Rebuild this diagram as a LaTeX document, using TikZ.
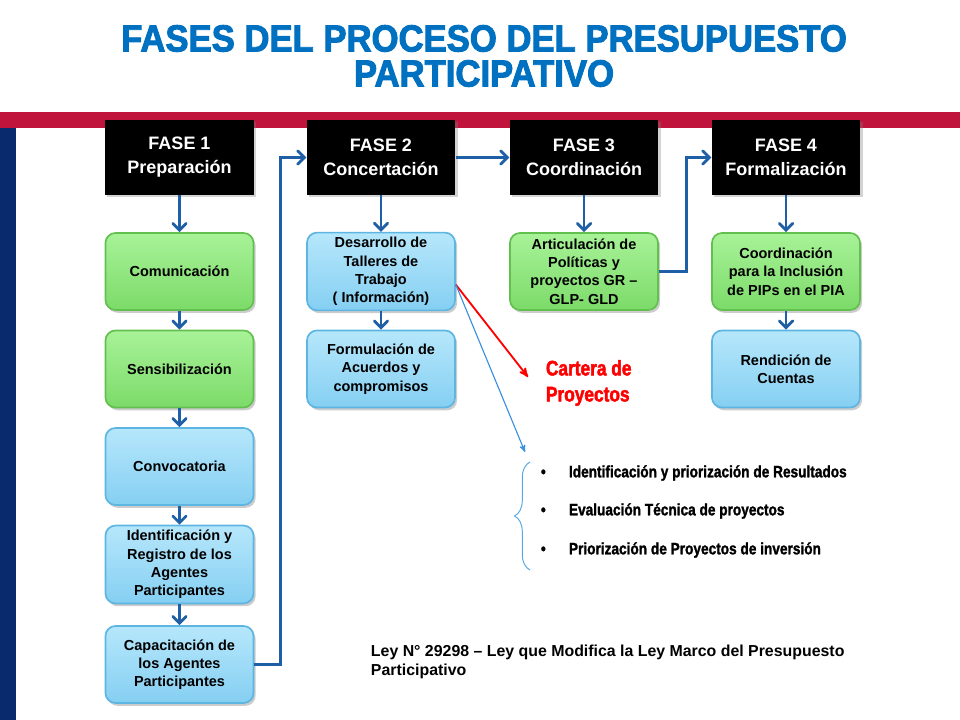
\documentclass[tikz,border=0pt]{standalone}
\usepackage{fontspec}
\setmainfont{Liberation Sans}
\newfontfamily\titlefont[FakeStretch=0.92,FakeBold=2.5]{Liberation Sans}
\newfontfamily\condfont[FakeStretch=0.83,FakeBold=1.5]{Liberation Sans}
\newfontfamily\cartfont[FakeStretch=0.82,FakeBold=2]{Liberation Sans}
\usetikzlibrary{arrows,shadows,decorations.pathreplacing}

\definecolor{titleblue}{HTML}{0070C0}
\definecolor{bandred}{HTML}{C0143C}
\definecolor{bandnavy}{HTML}{0A2A6E}
\definecolor{flowblue}{HTML}{1F5FA5}
\definecolor{thinblue}{HTML}{3B8FE0}
\definecolor{braceblue}{HTML}{5AA8E0}
\definecolor{greentop}{HTML}{A8F298}
\definecolor{greenbot}{HTML}{7CDB69}
\definecolor{greenedge}{HTML}{62C04F}
\definecolor{bluetop}{HTML}{B6E7FB}
\definecolor{bluebot}{HTML}{85CFF2}
\definecolor{blueedge}{HTML}{5DB5E2}

\begin{document}
\begin{tikzpicture}
	[x=0.025cm,y=-0.025cm,
	fase/.style={fill=black, text=white, minimum width=3.72cm, minimum height=1.875cm, align=center,
		font=\bfseries\fontsize{12.8}{17}\selectfont,
		drop shadow={shadow xshift=1.5pt, shadow yshift=-1.5pt, opacity=0.35}},
	stepbox/.style={rounded corners=0.25cm, minimum width=3.7cm, minimum height=1.925cm,
		align=center, line width=1.2pt, font=\bfseries\fontsize{10.3}{13}\selectfont,
		drop shadow={shadow xshift=1.5pt, shadow yshift=-2pt, opacity=0.4}},
	greenbox/.style={stepbox, draw=greenedge, top color=greentop, bottom color=greenbot},
	bluebox/.style={stepbox, draw=blueedge, top color=bluetop, bottom color=bluebot},
	flow/.style={->, >=angle 90, draw=flowblue, line width=2pt},
	bullet/.style={anchor=west, font=\condfont\bfseries\fontsize{11.7}{14}\selectfont}]

	\useasboundingbox (0,0) rectangle (960,720);

	% bands
	\fill[bandred] (0,112) rectangle (960,128);
	\fill[bandnavy] (0,128) rectangle (16,720);

	% title
	\node[text=titleblue, align=center, font=\titlefont\bfseries\fontsize{26.8}{24.9}\selectfont] (title) at (484,56)
		{FASES DEL PROCESO DEL PRESUPUESTO\\PARTICIPATIVO};

	% phases
	\node[fase] (f1) at (179.5,157.5) {FASE 1\\Preparación};
	\node[fase] (f2) at (381,157.5) {FASE 2\\Concertación};
	\node[fase] (f3) at (584,157.5) {FASE 3\\Coordinación};
	\node[fase] (f4) at (786,157.5) {FASE 4\\Formalización};

	% column 1
	\node[greenbox] (com) at (179.5,271.5) {Comunicación};
	\node[greenbox] (sen) at (179.5,369) {Sensibilización};
	\node[bluebox] (con) at (179.5,466.5) {Convocatoria};
	\node[bluebox] (ide) at (179.5,564.5) {Identificación y\\Registro de los\\Agentes\\Participantes};
	\node[bluebox] (cap) at (179.5,664.5) {Capacitación de\\los Agentes\\Participantes};

	% column 2
	\node[bluebox] (des) at (381,271.5) {Desarrollo de\\Talleres de\\Trabajo\\( Información)};
	\node[bluebox] (for) at (381,369) {Formulación de\\Acuerdos y\\compromisos};

	% column 3
	\node[greenbox] (art) at (584,271.5) {Articulación de\\Políticas y\\proyectos GR --\\GLP- GLD};

	% column 4
	\node[greenbox] (coo) at (786,271.5) {Coordinación\\para la Inclusión\\de PIPs en el PIA};
	\node[bluebox] (ren) at (786,369) {Rendición de\\Cuentas};

	\foreach \from/\to in {f1/com,com/sen,sen/con,con/ide,ide/cap,f2/des,des/for,f3/art,f4/coo,coo/ren,f2/f3}
	\draw[flow] (\from) -- (\to);

	\draw[flow] (cap.east) -- ++(26,0) |- (f2.west);
	\draw[flow] (art.east) -- ++(28,0) |- (f4.west);

	% cartera
	\node[anchor=west, text=red, align=left, font=\cartfont\bfseries\fontsize{15}{18.5}\selectfont] (cart) at (541,383)
		{Cartera de\\Proyectos};
	\coordinate (cartTip) at (528,377);
	\draw[->, >=stealth', red, line width=1.3pt] (des.-10) -- (cartTip);

	% brace and list
	\coordinate (brTop) at (530,462);
	\coordinate (brBot) at (530,570);
	\coordinate (listTip) at (525,452);
	\draw[->, >=stealth', thinblue, line width=0.8pt] (des.-10) -- (listTip);
	\draw[braceblue, line width=0.7pt, decorate, decoration={brace, amplitude=11pt}] (brBot) -- (brTop);

	\node[bullet] (b1) at (536,473) {\makebox[0.7cm][l]{\textbullet}Identificación y priorización de Resultados};
	\node[bullet] (b2) at (536,511) {\makebox[0.7cm][l]{\textbullet}Evaluación Técnica de proyectos};
	\node[bullet] (b3) at (536,550) {\makebox[0.7cm][l]{\textbullet}Priorización de Proyectos de inversión};

	% law
	\node[anchor=west, align=left, font=\bfseries\fontsize{11.3}{13}\selectfont] (ley) at (366,662)
		{Ley N° 29298 -- Ley que Modifica la Ley Marco del Presupuesto\\Participativo};

\end{tikzpicture}
\end{document}
